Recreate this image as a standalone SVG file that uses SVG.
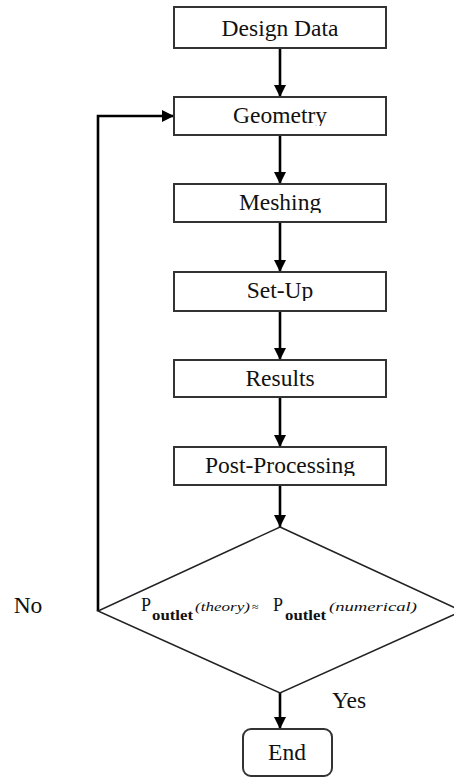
<svg xmlns="http://www.w3.org/2000/svg" width="454" height="778" viewBox="0 0 454 778">
  <style>
    .box { fill: #fff; stroke: #333; stroke-width: 2; }
    .lbl { font-family: "Liberation Serif", "Times New Roman", serif; font-size: 23.5px; fill: #111; text-anchor: middle; }
    .flow { stroke: #000; stroke-width: 2.6; fill: none; }
    .dec { fill: #fff; stroke: #222; stroke-width: 1.5; }
    .eq { font-family: "Liberation Serif", "Times New Roman", serif; fill: #111; }
    .sub { font-size: 15px; font-weight: bold; }
    .arg { font-size: 13px; font-style: italic; }
  </style>
  <defs>
    <marker id="head" viewBox="0 0 12 12" refX="12" refY="6" markerWidth="12" markerHeight="12" markerUnits="userSpaceOnUse" orient="auto">
      <path d="M0,0 L12,6 L0,12 Z" fill="#000"/>
    </marker>
    <!-- labels are cut just under the baseline inside their boxes -->
    <clipPath id="cGeo"><rect x="174" y="97" width="212" height="29"/></clipPath>
    <clipPath id="cMesh"><rect x="174" y="184" width="212" height="29"/></clipPath>
    <clipPath id="cSet"><rect x="174" y="272" width="212" height="29"/></clipPath>
    <clipPath id="cPost"><rect x="174" y="447" width="212" height="29"/></clipPath>
  </defs>

  <g id="connectors">
    <line class="flow" x1="280" y1="48" x2="280" y2="97" marker-end="url(#head)"/>
    <line class="flow" x1="280" y1="135" x2="280" y2="184" marker-end="url(#head)"/>
    <line class="flow" x1="280" y1="222" x2="280" y2="272" marker-end="url(#head)"/>
    <line class="flow" x1="280" y1="311" x2="280" y2="360" marker-end="url(#head)"/>
    <line class="flow" x1="280" y1="397" x2="280" y2="447" marker-end="url(#head)"/>
    <line class="flow" x1="280" y1="485" x2="280" y2="527" marker-end="url(#head)"/>
    <line class="flow" x1="280" y1="693" x2="280" y2="729" marker-end="url(#head)"/>
    <polyline class="flow" points="98,611 98,116 174,116" stroke-width="3" marker-end="url(#head)"/>
  </g>

  <g id="design-data">
    <rect class="box" x="174" y="7" width="212" height="41"/>
    <text class="lbl" x="280" y="36">Design Data</text>
  </g>
  <g id="geometry">
    <rect class="box" x="174" y="97" width="212" height="38"/>
    <text class="lbl" x="280" y="123" clip-path="url(#cGeo)">Geometry</text>
  </g>
  <g id="meshing">
    <rect class="box" x="174" y="184" width="212" height="38"/>
    <text class="lbl" x="280" y="210" clip-path="url(#cMesh)">Meshing</text>
  </g>
  <g id="set-up">
    <rect class="box" x="174" y="272" width="212" height="39"/>
    <text class="lbl" x="280" y="298" clip-path="url(#cSet)">Set-Up</text>
  </g>
  <g id="results">
    <rect class="box" x="174" y="360" width="212" height="37"/>
    <text class="lbl" x="280" y="386">Results</text>
  </g>
  <g id="post-processing">
    <rect class="box" x="174" y="447" width="212" height="38"/>
    <text class="lbl" x="280" y="473" clip-path="url(#cPost)">Post-Processing</text>
  </g>

  <g id="decision">
    <polygon class="dec" points="280,527 462,611 280,693 98,611"/>
    <text class="eq" x="141" y="611" font-size="18">P</text>
    <text class="eq sub" x="152" y="620" textLength="41" lengthAdjust="spacingAndGlyphs">outlet</text>
    <text class="eq arg" x="195" y="611" textLength="55" lengthAdjust="spacingAndGlyphs">(theory)</text>
    <text class="eq" x="252" y="611" font-size="12">≈</text>
    <text class="eq" x="273" y="611" font-size="18">P</text>
    <text class="eq sub" x="285" y="620" textLength="41" lengthAdjust="spacingAndGlyphs">outlet</text>
    <text class="eq arg" x="329" y="611" textLength="88" lengthAdjust="spacingAndGlyphs">(numerical)</text>
  </g>

  <g id="end">
    <rect class="box" x="243" y="729" width="89" height="47" rx="8" ry="8"/>
    <text class="lbl" x="287" y="760">End</text>
  </g>

  <g id="branch-labels">
    <text class="lbl" x="28" y="613">No</text>
    <text class="lbl" x="349" y="708">Yes</text>
  </g>
</svg>
